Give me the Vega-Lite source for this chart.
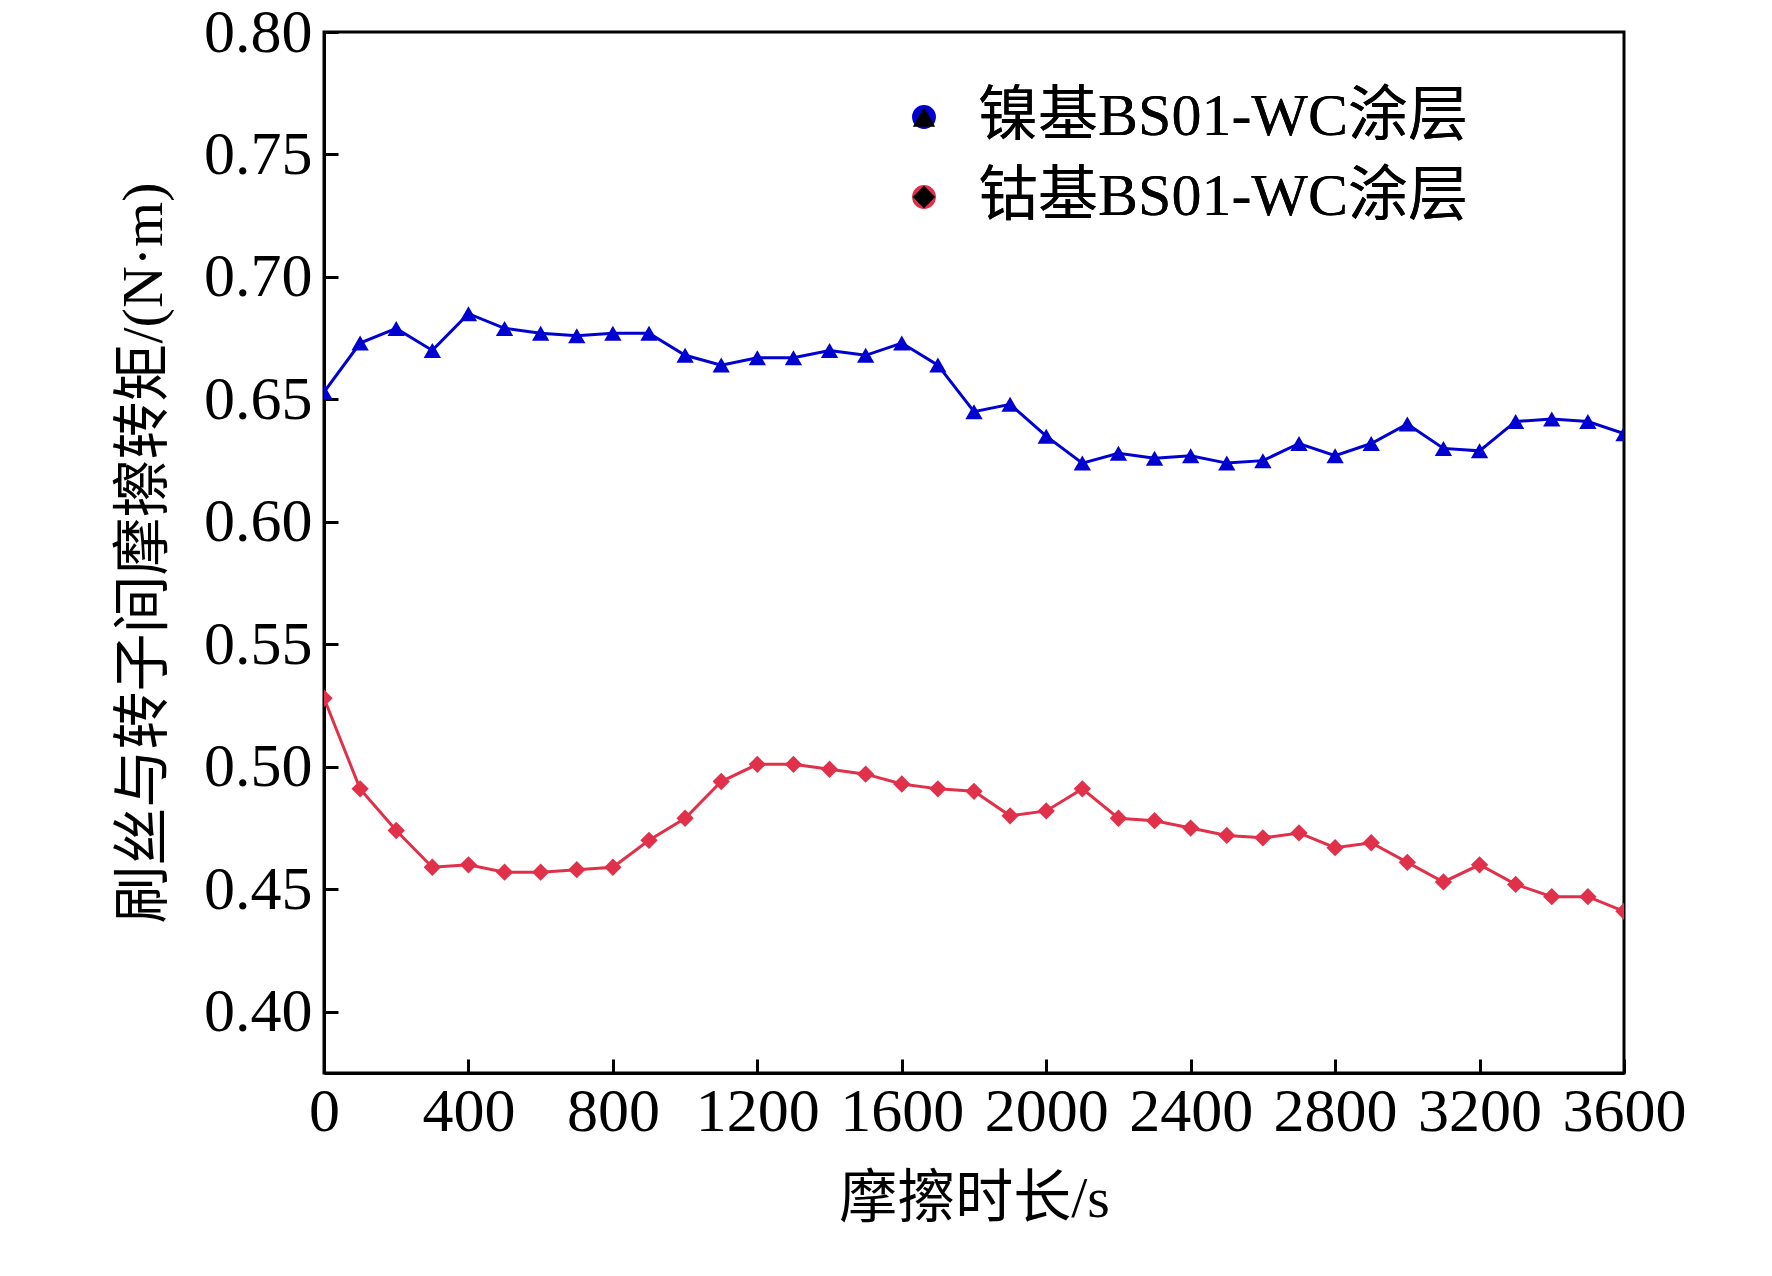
{
  "$schema": "https://vega.github.io/schema/vega-lite/v6.json",
  "width": 1300,
  "height": 1041,
  "autosize": "none",
  "padding": {"left": 324, "top": 32, "right": 148, "bottom": 203},
  "background": "white",
  "config": {
    "font": "Liberation Serif, Noto Sans CJK SC",
    "view": {"stroke": "black", "strokeWidth": 3},
    "axis": {"labelFont": "Liberation Serif", "labelFontSize": 62, "labelColor": "black", "titleFont": "Liberation Serif, Noto Sans CJK SC", "titleFontSize": 58, "titleFontWeight": "normal", "titleColor": "black", "tickColor": "black", "domainColor": "black", "domainWidth": 3, "tickWidth": 3, "tickSize": -14, "grid": false}
  },
  "data": {"values": [
    {"t":0,"v":0.653,"s":"镍基BS01-WC涂层"},{"t":100,"v":0.673,"s":"镍基BS01-WC涂层"},{"t":200,"v":0.679,"s":"镍基BS01-WC涂层"},{"t":300,"v":0.670,"s":"镍基BS01-WC涂层"},{"t":400,"v":0.685,"s":"镍基BS01-WC涂层"},{"t":500,"v":0.679,"s":"镍基BS01-WC涂层"},{"t":600,"v":0.677,"s":"镍基BS01-WC涂层"},{"t":700,"v":0.676,"s":"镍基BS01-WC涂层"},{"t":800,"v":0.677,"s":"镍基BS01-WC涂层"},{"t":900,"v":0.677,"s":"镍基BS01-WC涂层"},{"t":1000,"v":0.668,"s":"镍基BS01-WC涂层"},{"t":1100,"v":0.664,"s":"镍基BS01-WC涂层"},{"t":1200,"v":0.667,"s":"镍基BS01-WC涂层"},{"t":1300,"v":0.667,"s":"镍基BS01-WC涂层"},{"t":1400,"v":0.670,"s":"镍基BS01-WC涂层"},{"t":1500,"v":0.668,"s":"镍基BS01-WC涂层"},{"t":1600,"v":0.673,"s":"镍基BS01-WC涂层"},{"t":1700,"v":0.664,"s":"镍基BS01-WC涂层"},{"t":1800,"v":0.645,"s":"镍基BS01-WC涂层"},{"t":1900,"v":0.648,"s":"镍基BS01-WC涂层"},{"t":2000,"v":0.635,"s":"镍基BS01-WC涂层"},{"t":2100,"v":0.624,"s":"镍基BS01-WC涂层"},{"t":2200,"v":0.628,"s":"镍基BS01-WC涂层"},{"t":2300,"v":0.626,"s":"镍基BS01-WC涂层"},{"t":2400,"v":0.627,"s":"镍基BS01-WC涂层"},{"t":2500,"v":0.624,"s":"镍基BS01-WC涂层"},{"t":2600,"v":0.625,"s":"镍基BS01-WC涂层"},{"t":2700,"v":0.632,"s":"镍基BS01-WC涂层"},{"t":2800,"v":0.627,"s":"镍基BS01-WC涂层"},{"t":2900,"v":0.632,"s":"镍基BS01-WC涂层"},{"t":3000,"v":0.640,"s":"镍基BS01-WC涂层"},{"t":3100,"v":0.630,"s":"镍基BS01-WC涂层"},{"t":3200,"v":0.629,"s":"镍基BS01-WC涂层"},{"t":3300,"v":0.641,"s":"镍基BS01-WC涂层"},{"t":3400,"v":0.642,"s":"镍基BS01-WC涂层"},{"t":3500,"v":0.641,"s":"镍基BS01-WC涂层"},{"t":3600,"v":0.636,"s":"镍基BS01-WC涂层"},
    {"t":0,"v":0.528,"s":"钴基BS01-WC涂层"},{"t":100,"v":0.491,"s":"钴基BS01-WC涂层"},{"t":200,"v":0.474,"s":"钴基BS01-WC涂层"},{"t":300,"v":0.459,"s":"钴基BS01-WC涂层"},{"t":400,"v":0.460,"s":"钴基BS01-WC涂层"},{"t":500,"v":0.457,"s":"钴基BS01-WC涂层"},{"t":600,"v":0.457,"s":"钴基BS01-WC涂层"},{"t":700,"v":0.458,"s":"钴基BS01-WC涂层"},{"t":800,"v":0.459,"s":"钴基BS01-WC涂层"},{"t":900,"v":0.470,"s":"钴基BS01-WC涂层"},{"t":1000,"v":0.479,"s":"钴基BS01-WC涂层"},{"t":1100,"v":0.494,"s":"钴基BS01-WC涂层"},{"t":1200,"v":0.501,"s":"钴基BS01-WC涂层"},{"t":1300,"v":0.501,"s":"钴基BS01-WC涂层"},{"t":1400,"v":0.499,"s":"钴基BS01-WC涂层"},{"t":1500,"v":0.497,"s":"钴基BS01-WC涂层"},{"t":1600,"v":0.493,"s":"钴基BS01-WC涂层"},{"t":1700,"v":0.491,"s":"钴基BS01-WC涂层"},{"t":1800,"v":0.490,"s":"钴基BS01-WC涂层"},{"t":1900,"v":0.480,"s":"钴基BS01-WC涂层"},{"t":2000,"v":0.482,"s":"钴基BS01-WC涂层"},{"t":2100,"v":0.491,"s":"钴基BS01-WC涂层"},{"t":2200,"v":0.479,"s":"钴基BS01-WC涂层"},{"t":2300,"v":0.478,"s":"钴基BS01-WC涂层"},{"t":2400,"v":0.475,"s":"钴基BS01-WC涂层"},{"t":2500,"v":0.472,"s":"钴基BS01-WC涂层"},{"t":2600,"v":0.471,"s":"钴基BS01-WC涂层"},{"t":2700,"v":0.473,"s":"钴基BS01-WC涂层"},{"t":2800,"v":0.467,"s":"钴基BS01-WC涂层"},{"t":2900,"v":0.469,"s":"钴基BS01-WC涂层"},{"t":3000,"v":0.461,"s":"钴基BS01-WC涂层"},{"t":3100,"v":0.453,"s":"钴基BS01-WC涂层"},{"t":3200,"v":0.460,"s":"钴基BS01-WC涂层"},{"t":3300,"v":0.452,"s":"钴基BS01-WC涂层"},{"t":3400,"v":0.447,"s":"钴基BS01-WC涂层"},{"t":3500,"v":0.447,"s":"钴基BS01-WC涂层"},{"t":3600,"v":0.441,"s":"钴基BS01-WC涂层"}
  ]},
  "mark": {"type": "line", "strokeWidth": 3, "clip": true, "point": {"size": 300, "filled": true, "clip": true}},
  "encoding": {
    "x": {"field": "t", "type": "quantitative", "title": "摩擦时长/s", "scale": {"domain": [0, 3600], "nice": false}, "axis": {"values": [0,400,800,1200,1600,2000,2400,2800,3200,3600], "format": "d", "labelPadding": 22, "titlePadding": 28, "labelFlush": false}},
    "y": {"field": "v", "type": "quantitative", "title": "刷丝与转子间摩擦转矩/(N·m)", "scale": {"domain": [0.375, 0.8], "nice": false, "zero": false}, "axis": {"values": [0.4,0.45,0.5,0.55,0.6,0.65,0.7,0.75,0.8], "format": ".2f", "labelPadding": 26, "titlePadding": 30, "labelFlush": false}},
    "color": {"field": "s", "type": "nominal", "sort": ["镍基BS01-WC涂层", "钴基BS01-WC涂层"], "scale": {"range": ["#0000d0", "#e0304a"]},
      "legend": {"title": null, "orient": "none", "legendX": 570, "legendY": 55, "labelFont": "Liberation Serif, Noto Sans CJK SC", "labelFontSize": 60, "labelColor": "black", "labelLimit": 0, "symbolSize": 500, "rowPadding": 20, "labelOffset": 24}},
    "shape": {"field": "s", "type": "nominal", "sort": ["镍基BS01-WC涂层", "钴基BS01-WC涂层"], "scale": {"range": ["triangle-up", "diamond"]},
      "legend": {"title": null, "orient": "none", "legendX": 570, "legendY": 55, "labelFont": "Liberation Serif, Noto Sans CJK SC", "labelFontSize": 60, "labelColor": "black", "labelLimit": 0, "symbolSize": 500, "rowPadding": 20, "labelOffset": 24}}
  }
}
